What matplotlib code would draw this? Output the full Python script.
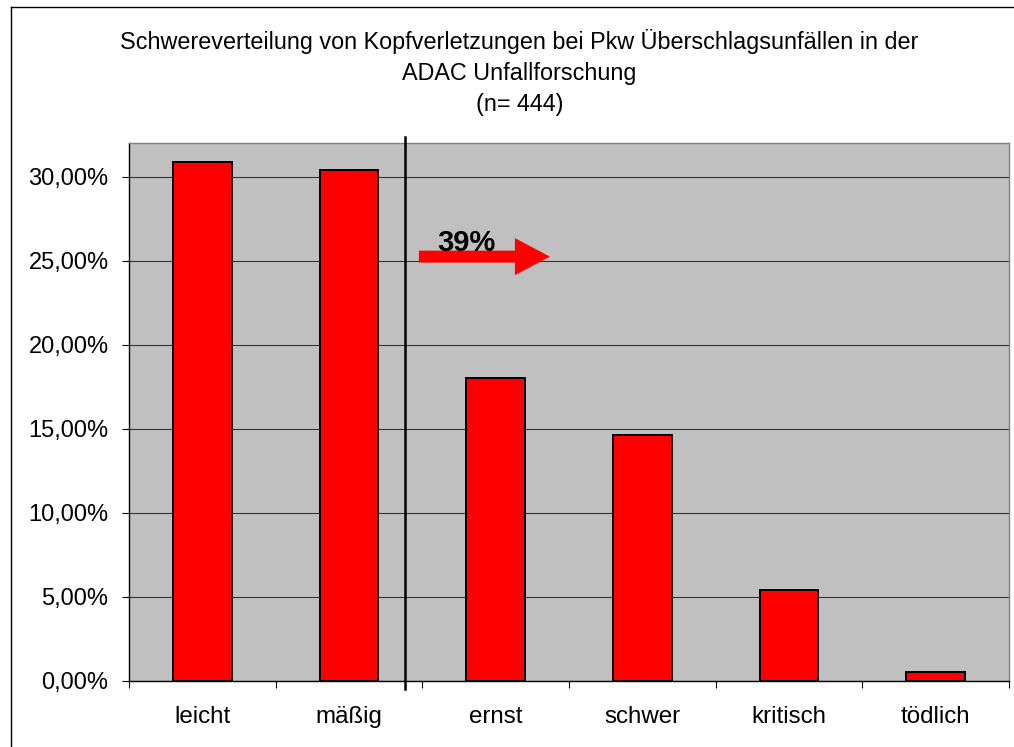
import matplotlib
matplotlib.use("Agg")
import matplotlib.pyplot as plt
from matplotlib.patches import FancyArrow
from matplotlib.lines import Line2D
from matplotlib.ticker import FuncFormatter, FixedLocator

plt.rcParams['font.family'] = ['Liberation Sans', 'DejaVu Sans']

categories = ["leicht", "mäßig", "ernst", "schwer", "kritisch", "tödlich"]
shares = [0.3086, 0.3041, 0.1802, 0.1464, 0.0541, 0.0054]
title_lines = ["Schwereverteilung von Kopfverletzungen bei Pkw Überschlagsunfällen in der",
               "ADAC Unfallforschung",
               "(n= 444)"]
yticks = [0.0, 0.05, 0.10, 0.15, 0.20, 0.25, 0.30]

fig = plt.figure(figsize=(10.14, 7.47), dpi=100)
ax = fig.add_axes([0.1275, 0.0884, 0.8673, 0.7202])

xpos = list(range(len(categories)))
ax.set_facecolor("#c0c0c0")
ax.bar(xpos, shares, width=0.4, color="#ff0000", edgecolor="black", linewidth=1.4, zorder=3)

ax.set_xlim(-0.5, len(categories) - 0.5)
ax.set_ylim(0, 0.32)

# y axis
ax.yaxis.set_major_locator(FixedLocator(yticks))
ax.yaxis.set_major_formatter(FuncFormatter(lambda v, p: f"{v*100:.2f}%".replace(".", ",")))
ax.grid(axis="y", color="#333333", linewidth=0.8, zorder=1)
ax.tick_params(axis="y", direction="out", length=5.4, width=0.8, pad=9.5, labelsize=17)

# x axis: labels centred, ticks between categories
ax.set_xticks(xpos)
ax.set_xticklabels(categories)
ax.set_xticks([i - 0.5 for i in range(len(categories) + 1)], minor=True)
ax.tick_params(axis="x", which="major", length=0, pad=18, labelsize=17.4)
ax.tick_params(axis="x", which="minor", direction="out", length=5, width=0.8)

for side in ["top", "right"]:
    ax.spines[side].set_color("#808080")
    ax.spines[side].set_linewidth(1)
for side in ["left", "bottom"]:
    ax.spines[side].set_color("black")
    ax.spines[side].set_linewidth(1)

# separator line between mild and severe injuries
ax.plot([1.378, 1.378], [-0.0045, 0.3235], color="black", linewidth=1.8,
        clip_on=False, zorder=4)

# arrow with share of severe injuries
ax.add_patch(FancyArrow(1.476, 0.2524, 0.894, 0, width=0.0071, head_width=0.022,
                        head_length=0.239, length_includes_head=True,
                        color="#ff0000", linewidth=0, zorder=4))
ax.text(1.599, 0.256, "39%", fontsize=21, fontweight="bold", ha="left",
        va="baseline", zorder=5)

# title lines
for i, line in enumerate(title_lines):
    fig.text(0.5123, 1 - (42 + 31.5 * i) / 747, line, fontsize=16.8,
             ha="center", va="center")

# chart frame (left and top edges)
fig.add_artist(Line2D([11 / 1014, 11 / 1014], [0, 1 - 7 / 747], color="black", linewidth=1))
fig.add_artist(Line2D([11 / 1014, 1], [1 - 7 / 747, 1 - 7 / 747], color="black", linewidth=1))

fig.savefig("out.png", dpi=100)
